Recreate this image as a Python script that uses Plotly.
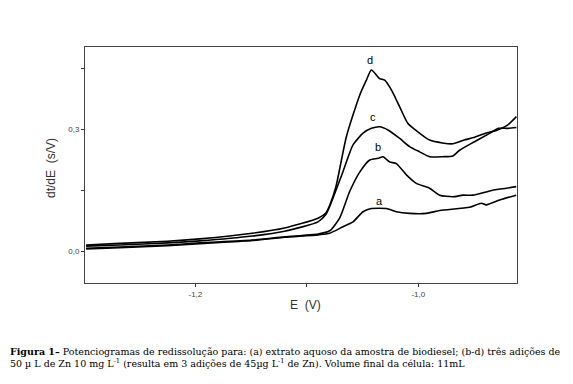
import plotly.graph_objects as go

# ---- data (E in V, dt/dE in s/V) ----
E_a = [-1.298, -1.268, -1.225, -1.196, -1.149, -1.120, -1.090, -1.0795, -1.0676, -1.0586,
       -1.0496, -1.0421, -1.0287, -1.0197, -1.0078, -0.9928, -0.9809, -0.9540, -0.9435,
       -0.9391, -0.9271, -0.9122]
y_a = [0.005, 0.008, 0.013, 0.018, 0.026, 0.034, 0.040, 0.044, 0.060, 0.072,
       0.097, 0.105, 0.105, 0.097, 0.093, 0.093, 0.100, 0.108, 0.118,
       0.114, 0.126, 0.138]

E_b = [-1.298, -1.268, -1.225, -1.196, -1.149, -1.120, -1.090, -1.0795, -1.0705, -1.0616,
       -1.0526, -1.0436, -1.0362, -1.0317, -1.0257, -1.0197, -1.0107, -1.0018, -0.9899,
       -0.9809, -0.969, -0.960, -0.9511, -0.9391, -0.9301, -0.9211, -0.9122]
y_b = [0.007, 0.010, 0.015, 0.020, 0.027, 0.035, 0.042, 0.050, 0.082, 0.147,
       0.195, 0.225, 0.229, 0.233, 0.220, 0.216, 0.188, 0.167, 0.155,
       0.138, 0.134, 0.138, 0.138, 0.146, 0.152, 0.155, 0.159]

E_c = [-1.298, -1.268, -1.225, -1.196, -1.149, -1.120, -1.090, -1.083, -1.0795, -1.0676,
       -1.0586, -1.0496, -1.0421, -1.0347, -1.0272, -1.0167, -1.0078, -0.9988, -0.9899,
       -0.9784, -0.969, -0.963, -0.9496, -0.9365, -0.9283, -0.920, -0.912]
y_c = [0.012, 0.015, 0.020, 0.025, 0.037, 0.049, 0.072, 0.090, 0.110, 0.196,
       0.262, 0.291, 0.303, 0.307, 0.299, 0.278, 0.258, 0.245, 0.233,
       0.233, 0.235, 0.249, 0.270, 0.290, 0.303, 0.303, 0.305]

E_d = [-1.298, -1.268, -1.225, -1.196, -1.149, -1.120, -1.090, -1.083, -1.0795, -1.074,
       -1.0645, -1.0526, -1.0466, -1.0421, -1.0347, -1.0302, -1.0242, -1.0167, -1.0093,
       -0.9988, -0.9899, -0.9784, -0.969, -0.959, -0.9496, -0.9397, -0.930, -0.920, -0.912]
y_d = [0.015, 0.019, 0.024, 0.030, 0.044, 0.057, 0.081, 0.094, 0.113, 0.158,
       0.283, 0.385, 0.422, 0.447, 0.426, 0.422, 0.398, 0.356, 0.315,
       0.291, 0.274, 0.267, 0.265, 0.274, 0.281, 0.291, 0.298, 0.311, 0.332]

curve_labels = ["a", "b", "c", "d"]
label_E = [-1.0347, -1.0364, -1.0406, -1.0437]
label_y = [0.124, 0.256, 0.331, 0.471]

x_ticks = [-1.2, -1.0]
x_ticktext = ["-1,2", "-1,0"]
y_ticks = [0.0, 0.3]
y_ticktext = ["0,0", "0,3"]

caption1 = ("<b>Figura 1–</b> Potenciogramas de redissolução para: (a) extrato aquoso da amostra "
            "de biodiesel; (b-d) três adições de")
caption2 = ("50 µ L de Zn 10 mg L<sup>-1</sup> (resulta em 3 adições de 45µg L<sup>-1</sup> "
            "de Zn). Volume final da célula: 11mL")

fig = go.Figure()
for E, y in [(E_a, y_a), (E_b, y_b), (E_c, y_c), (E_d, y_d)]:
    fig.add_trace(go.Scatter(x=E, y=y, mode="lines",
                             line=dict(color="black", width=1.6, shape="spline", smoothing=0.6),
                             showlegend=False, hoverinfo="skip"))

for t, ex, ey in zip(curve_labels, label_E, label_y):
    fig.add_annotation(x=ex, y=ey, text=t, showarrow=False,
                       font=dict(family="Liberation Sans, Arial", size=11, color="black"))

# page body adds an 8px margin, so work in page pixels shifted by 8
OFF = 8
W, H = 573 - OFF, 384 - OFF
L, R, T, B = 85 - OFF, 517 - OFF, 47 - OFF, 283 - OFF
pw, ph = R - L, B - T

def px(x):
    return (x - OFF - L) / pw

def py(y):
    return (B - (y - OFF)) / ph

fig.add_annotation(xref="paper", yref="paper", x=px(305), y=py(314), text="E\u00a0\u00a0(V)",
                   showarrow=False, font=dict(family="Liberation Sans, Arial", size=12, color="#333"))
fig.add_annotation(xref="paper", yref="paper", x=px(42), y=py(168), text="dt/dE\u00a0\u00a0(s/V)",
                   textangle=-90, showarrow=False,
                   font=dict(family="Liberation Sans, Arial", size=12, color="#333"))
fig.add_annotation(xref="paper", yref="paper", x=px(8), y=py(351), xanchor="left", yanchor="middle",
                   text=caption1, showarrow=False, align="left",
                   font=dict(family="DejaVu Serif", size=9.5, color="black"))
fig.add_annotation(xref="paper", yref="paper", x=px(8), y=py(363), xanchor="left", yanchor="middle",
                   text=caption2, showarrow=False, align="left",
                   font=dict(family="DejaVu Serif", size=9.5, color="black"))

fig.update_layout(
    width=W, height=H,
    margin=dict(l=L, r=W - R, t=T, b=H - B),
    paper_bgcolor="white", plot_bgcolor="white",
    xaxis=dict(range=[-1.299, -0.9115], tickvals=x_ticks, ticktext=x_ticktext,
               ticks="outside", ticklen=3, tickcolor="#333", showgrid=False, zeroline=False,
               minor=dict(tick0=-1.2, dtick=0.1, ticks="outside", ticklen=3, tickcolor="#333",
                          showgrid=False),
               showline=True, linecolor="#444", linewidth=1, mirror=True,
               tickfont=dict(family="Liberation Sans, Arial", size=8, color="#444")),
    yaxis=dict(range=[-0.079, 0.504], tickvals=y_ticks, ticktext=y_ticktext,
               ticks="outside", ticklen=3, tickcolor="#333", showgrid=False, zeroline=False,
               minor=dict(tick0=0, dtick=0.15, ticks="outside", ticklen=3, tickcolor="#333",
                          showgrid=False),
               showline=True, linecolor="#444", linewidth=1, mirror=True,
               tickfont=dict(family="Liberation Sans, Arial", size=8, color="#444")),
)

fig.write_html("out.html")
